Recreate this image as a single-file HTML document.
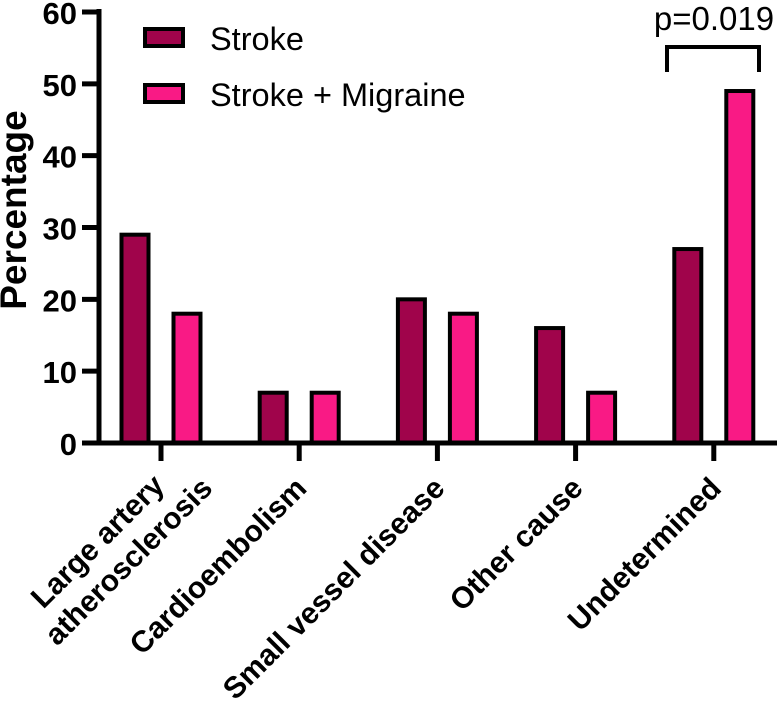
<!DOCTYPE html>
<html><head><meta charset="utf-8"><style>
html,body{margin:0;padding:0;background:#fff;}
svg{display:block;font-family:"Liberation Sans",Arial,sans-serif;}
</style></head><body>
<svg id="chart" width="778" height="701"></svg>
<script>
const categories=[["Large artery","atherosclerosis"],["Cardioembolism"],["Small vessel disease"],["Other cause"],["Undetermined"]];
const strokeValues=[29,7,20,16,27];
const migraineValues=[18,7,18,7,49];
const yTicks=[0,10,20,30,40,50,60];
const seriesNames=["Stroke","Stroke + Migraine"];
const ns="http://www.w3.org/2000/svg";
const svg=document.getElementById('chart');
function y(v){return 443-(v/60)*431;}
function x(i){return 161+i*138.2;}
function mk(t,a,p){const e=document.createElementNS(ns,t);for(const k in a)e.setAttribute(k,a[k]);(p||svg).appendChild(e);return e;}
const colors=["#a0044b","#f91a85"];
categories.forEach((c,i)=>{
  [strokeValues[i],migraineValues[i]].forEach((v,s)=>{
    const cx=x(i)+(s===0?-26:26);
    const r=mk('rect',{x:cx-13.5,y:y(v),width:27,height:443-y(v),fill:colors[s],stroke:'#000','stroke-width':4});
    
    
  });
});
const ya=mk('line',{x1:99,y1:9,x2:99,y2:445,stroke:'#000','stroke-width':5});

yTicks.forEach(t=>{
  const l=mk('line',{x1:82,y1:y(t),x2:99,y2:y(t),stroke:'#000','stroke-width':5});
  
  const tx=mk('text',{x:77,y:y(t)+12,'text-anchor':'end','font-size':31,'font-weight':'bold'});
  tx.textContent=t;
  
});
const xa=mk('line',{x1:82,y1:443,x2:777,y2:443,stroke:'#000','stroke-width':5});

categories.forEach((c,i)=>{
  const l=mk('line',{x1:x(i),y1:443,x2:x(i),y2:461,stroke:'#000','stroke-width':5});
  
  const n=c.length;
  const tx0=n>1?x(i)+53:x(i)+9;
  const g=mk('text',{transform:`translate(${tx0},490) rotate(-45)`,'text-anchor':'end','font-size':30,'font-weight':'bold'});
  
  c.forEach((line,j)=>{
    const off=n>1&&j===0;
    const ts=mk('tspan',{x:off?-32:0,y:off?-36:0},g);
    ts.textContent=line;
  });
});
const yt=mk('text',{transform:'translate(26,210) rotate(-90)','text-anchor':'middle','font-size':37,'font-weight':'bold'});
yt.textContent='Percentage';

seriesNames.forEach((n,s)=>{
  const r=mk('rect',{x:145,y:29+s*56,width:38,height:17,fill:colors[s],stroke:'#000','stroke-width':4});
  
  const t=mk('text',{x:210,y:50+s*56,'font-size':32.5});
  t.textContent=n;
  
});
const b=mk('polyline',{points:'667,72 667,47 759,47 759,72',fill:'none',stroke:'#000','stroke-width':4});

const p=mk('text',{x:714,y:30,'text-anchor':'middle','font-size':33});
p.textContent='p=0.019';

</script>
</body></html>
